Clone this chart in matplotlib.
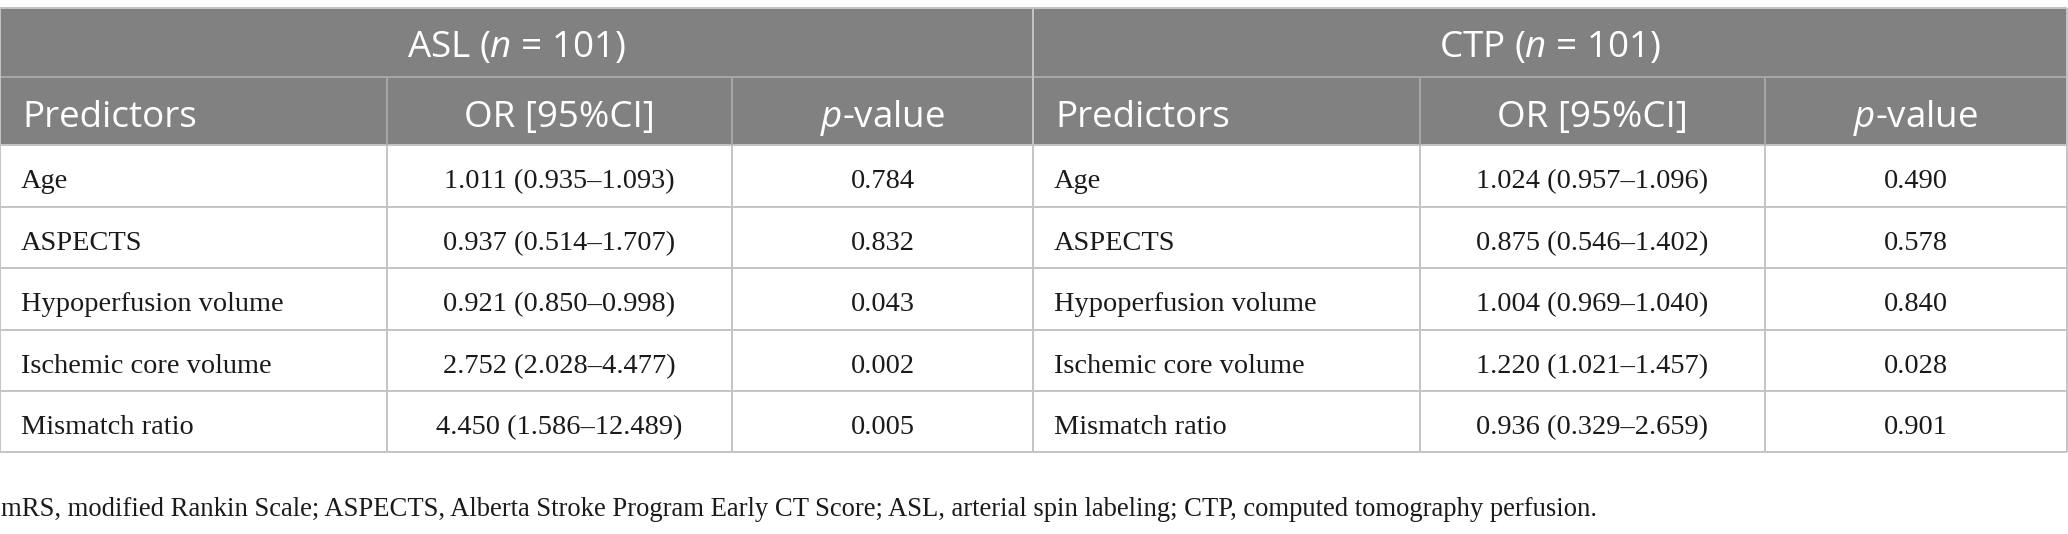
import matplotlib
matplotlib.use("Agg")
import matplotlib.pyplot as plt
from matplotlib.patches import Rectangle

# table content
groups = ["ASL ($n$ = 101)", "CTP ($n$ = 101)"]
col_heads = ["Predictors", "OR [95%CI]", "$p$-value"]
predictors = ["Age", "ASPECTS", "Hypoperfusion volume",
              "Ischemic core volume", "Mismatch ratio"]
asl_or = ["1.011 (0.935–1.093)", "0.937 (0.514–1.707)", "0.921 (0.850–0.998)",
          "2.752 (2.028–4.477)", "4.450 (1.586–12.489)"]
asl_p = ["0.784", "0.832", "0.043", "0.002", "0.005"]
ctp_or = ["1.024 (0.957–1.096)", "0.875 (0.546–1.402)", "1.004 (0.969–1.040)",
          "1.220 (1.021–1.457)", "0.936 (0.329–2.659)"]
ctp_p = ["0.490", "0.578", "0.840", "0.028", "0.901"]
footnote = ("mRS, modified Rankin Scale; ASPECTS, Alberta Stroke Program Early CT Score; "
            "ASL, arterial spin labeling; CTP, computed tomography perfusion.")

plt.rcParams["mathtext.fontset"] = "custom"
plt.rcParams["mathtext.rm"] = "Open Sans"
plt.rcParams["mathtext.it"] = "Open Sans:italic"

HEAD_BG = "#808180"
GRID = "#c4c4c4"
HEAD_GRID = "#a8a8a8"
TXT = "#1a1a1a"
SANS = "Open Sans"
SERIF = "Liberation Serif"
HEAD_FS = 26.5
BODY_FS = 20.4
NOTE_FS = 19.2

W, H = 2068, 534
fig = plt.figure(figsize=(W / 100, H / 100), dpi=100)
ax = fig.add_axes([0, 0, 1, 1])
ax.set_xlim(0, W)
ax.set_ylim(H, 0)
ax.axis("off")

xs = [0, 387, 732, 1033, 1420, 1765, 2067]
ys = [8, 77, 145, 207, 268, 330, 391, 452]

# header background
ax.add_patch(Rectangle((xs[0], ys[0]), xs[-1] - xs[0], ys[2] - ys[0],
                       facecolor=HEAD_BG, edgecolor="none", zorder=1))

# grid lines
ax.hlines(ys[0], xs[0], xs[-1], color=GRID, lw=1.4, zorder=2)
ax.hlines(ys[1], xs[0], xs[-1], color=HEAD_GRID, lw=1.4, zorder=2)
ax.hlines(ys[2:], xs[0], xs[-1], color=GRID, lw=1.4, zorder=2)
ax.vlines([xs[0], xs[3], xs[-1]], ys[0], ys[-1], color=GRID, lw=1.4, zorder=2)
for x in [xs[1], xs[2], xs[4], xs[5]]:
    ax.vlines(x, ys[1], ys[2], color=HEAD_GRID, lw=1.4, zorder=2)
    ax.vlines(x, ys[2], ys[-1], color=GRID, lw=1.4, zorder=2)

# group headers
for g, (a, b) in zip(groups, [(xs[0], xs[3]), (xs[3], xs[6])]):
    ax.text((a + b) / 2, 57, g, ha="center", va="baseline", color="white",
            fontsize=HEAD_FS, family=SANS, zorder=3)

# column headers
for k in range(2):
    base = 3 * k
    ax.text(xs[base] + 22, 127, col_heads[0], ha="left", va="baseline",
            color="white", fontsize=HEAD_FS, family=SANS, zorder=3)
    for j in (1, 2):
        ax.text((xs[base + j] + xs[base + j + 1]) / 2, 127, col_heads[j],
                ha="center", va="baseline", color="white", fontsize=HEAD_FS,
                family=SANS, zorder=3)

# body rows
for i, name in enumerate(predictors):
    yb = ys[i + 2] + 43
    cells = [asl_or[i], asl_p[i], ctp_or[i], ctp_p[i]]
    for k in range(2):
        base = 3 * k
        ax.text(xs[base] + 21, yb, name, ha="left", va="baseline", color=TXT,
                fontsize=BODY_FS, family=SERIF, zorder=3)
        for j in (1, 2):
            ax.text((xs[base + j] + xs[base + j + 1]) / 2, yb, cells[2 * k + j - 1],
                    ha="center", va="baseline", color=TXT, fontsize=BODY_FS,
                    family=SERIF, zorder=3)

ax.text(1, 516, footnote, ha="left", va="baseline", color=TXT,
        fontsize=NOTE_FS, family=SERIF)

fig.savefig("out.png", dpi=100)
